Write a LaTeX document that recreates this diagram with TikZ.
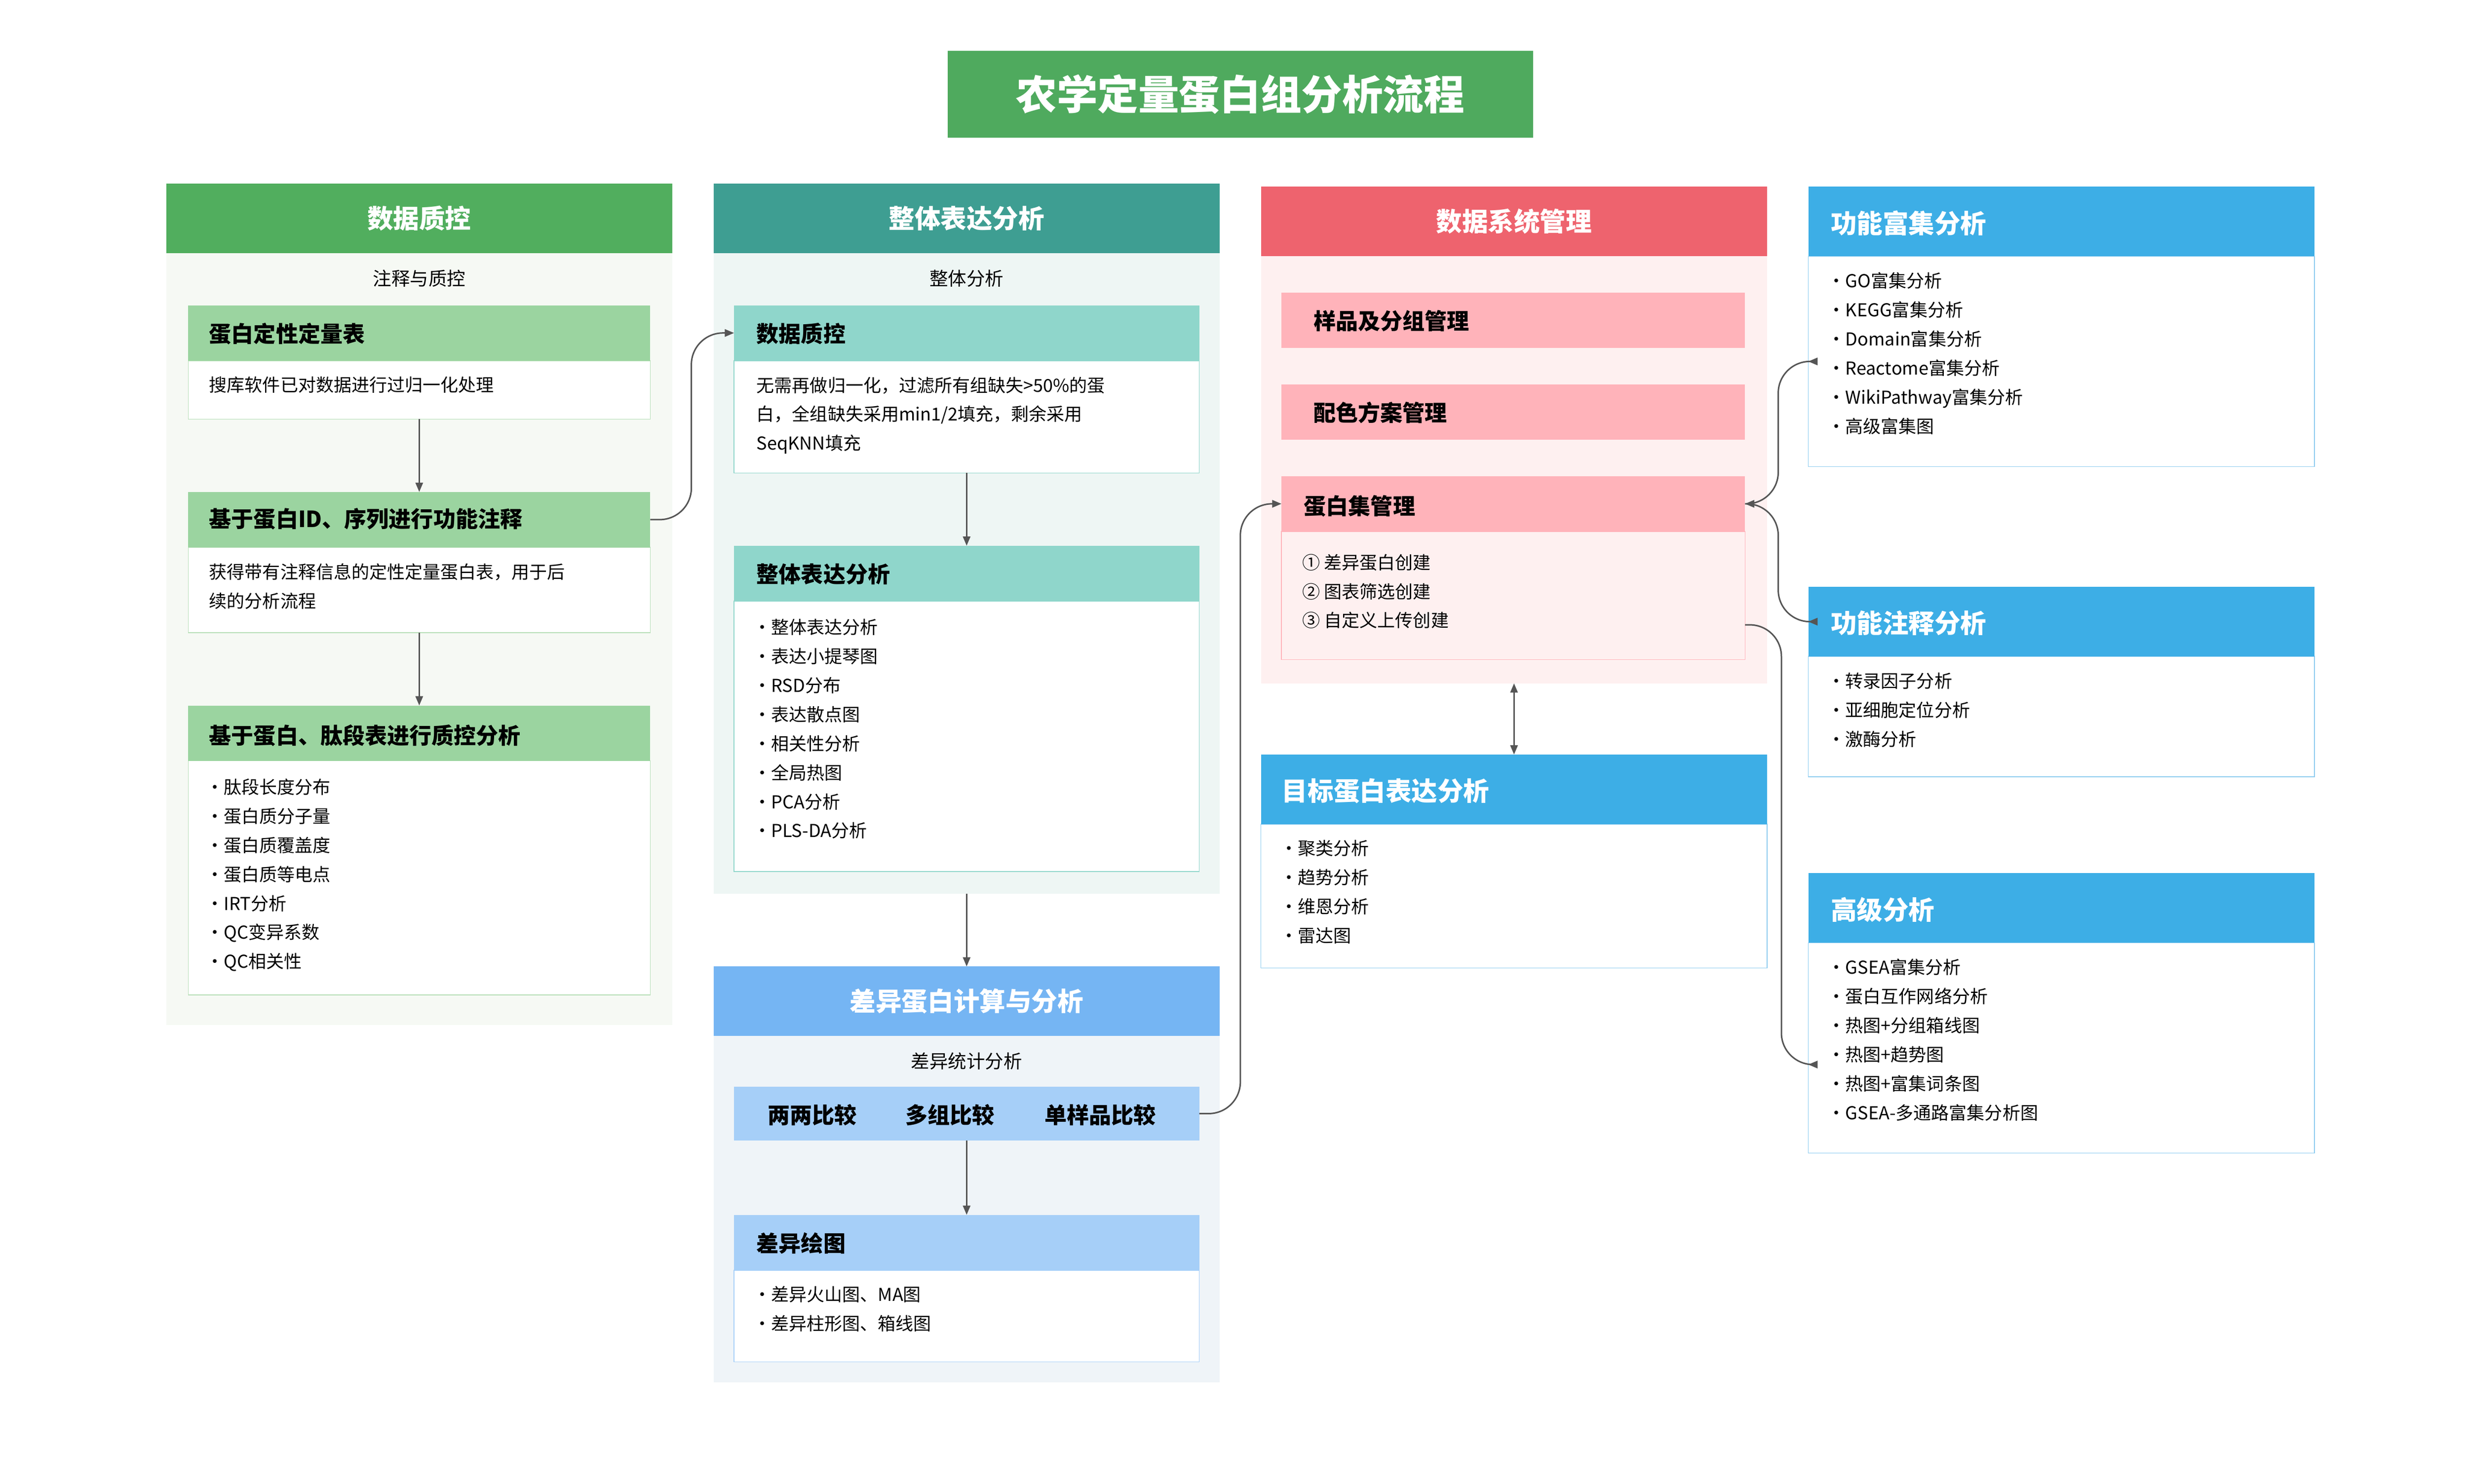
\documentclass[tikz,border=0pt]{standalone}
\usepackage{fontspec}
\setmainfont{Noto Sans CJK SC}
\usetikzlibrary{arrows.meta,positioning}
\definecolor{titlegreen}{HTML}{4FAA5E}
\definecolor{gHead}{HTML}{51AE5E}\definecolor{gBg}{HTML}{F6F9F4}\definecolor{gSub}{HTML}{9BD4A0}\definecolor{gLine}{HTML}{B5DEB5}
\definecolor{tHead}{HTML}{3E9E92}\definecolor{tBg}{HTML}{EEF6F4}\definecolor{tSub}{HTML}{8FD6CB}
\definecolor{bHead}{HTML}{75B5F3}\definecolor{bBg}{HTML}{EFF4F8}\definecolor{bSub}{HTML}{A6CFF8}
\definecolor{rHead}{HTML}{EE636E}\definecolor{rBg}{HTML}{FEF0F0}\definecolor{rSub}{HTML}{FFB3BA}
\definecolor{sky}{HTML}{3DAEE6}\definecolor{skyLine}{HTML}{8CCBEF}
\definecolor{arrgray}{HTML}{555555}
\tikzset{
  blk/.style 2 args={rectangle,anchor=north west,inner sep=0pt,outer sep=0pt,minimum width=#1*0.03cm,minimum height=#2*0.03cm},
  headtxt/.style={text=white,font=\fontsize{14}{16}\selectfont\bfseries},
  subtxt/.style={anchor=west,font=\fontsize{12}{14}\selectfont\bfseries,inner sep=0pt},
  bodytxt/.style={anchor=north west,align=left,inner sep=0pt,font=\fontsize{9.6}{15.7}\selectfont},
  arr/.style={draw=arrgray,line width=0.8pt,-{Triangle[length=5pt,width=4pt]}},
  arrb/.style={draw=arrgray,line width=0.8pt,{Triangle[length=5pt,width=4pt]}-{Triangle[length=5pt,width=4pt]}}
}
\begin{document}
\begin{tikzpicture}[x=0.03cm,y=-0.03cm]
\useasboundingbox (0,0) rectangle (1560,938);
% title
\node[blk={370}{55},fill=titlegreen] (title) at (599,32) {};
\node[text=white,font=\fontsize{22}{26}\selectfont\bfseries] at (title.center) {农学定量蛋白组分析流程};

% panel 1: data QC
\node[blk={320}{488},fill=gBg] (p1) at (105,160) {};
\node[blk={320}{44},fill=gHead,headtxt] (p1h) at (105,116) {数据质控};
\node[font=\fontsize{10}{12}\selectfont] (p1s) at (265,176) {注释与质控};
\node[blk={292}{37},fill=white,draw=gLine] (p1b1b) at (119,228) {};
\node[blk={292}{35},fill=gSub] (p1b1h) at (119,193) {};
\node[subtxt] at (132,211) {蛋白定性定量表};
\node[bodytxt] at (132,238) {搜库软件已对数据进行过归一化处理};
\node[blk={292}{54},fill=white,draw=gLine] (p1b2b) at (119,346) {};
\node[blk={292}{35},fill=gSub] (p1b2h) at (119,311) {};
\node[subtxt] at (132,328) {基于蛋白ID、序列进行功能注释};
\node[bodytxt] at (132,356) {获得带有注释信息的定性定量蛋白表，用于后\\续的分析流程};
\node[blk={292}{148},fill=white,draw=gLine] (p1b3b) at (119,481) {};
\node[blk={292}{35},fill=gSub] (p1b3h) at (119,446) {};
\node[subtxt] at (132,465) {基于蛋白、肽段表进行质控分析};
\node[bodytxt] at (130,492) {·肽段长度分布\\·蛋白质分子量\\·蛋白质覆盖度\\·蛋白质等电点\\·IRT分析\\·QC变异系数\\·QC相关性};
\draw[arr] (p1b1b.south) -- (p1b2h.north);
\draw[arr] (p1b2b.south) -- (p1b3h.north);

% panel 2: overall expression
\node[blk={320}{405},fill=tBg] (p2) at (451,160) {};
\node[blk={320}{44},fill=tHead,headtxt] (p2h) at (451,116) {整体表达分析};
\node[font=\fontsize{10}{12}\selectfont] (p2s) at (611,176) {整体分析};
\node[blk={294}{71},fill=white,draw=tSub] (p2b1b) at (464,228) {};
\node[blk={294}{35},fill=tSub] (p2b1h) at (464,193) {};
\node[subtxt] at (478,211) {数据质控};
\node[bodytxt] at (478,238) {无需再做归一化，过滤所有组缺失>50\%的蛋\\白，全组缺失采用min1/2填充，剩余采用\\SeqKNN填充};
\node[blk={294}{171},fill=white,draw=tSub] (p2b2b) at (464,380) {};
\node[blk={294}{35},fill=tSub] (p2b2h) at (464,345) {};
\node[subtxt] at (478,363) {整体表达分析};
\node[bodytxt] at (476,391) {·整体表达分析\\·表达小提琴图\\·RSD分布\\·表达散点图\\·相关性分析\\·全局热图\\·PCA分析\\·PLS-DA分析};
\draw[arr] (p2b1b.south) -- (p2b2h.north);

% panel 3: differential
\node[blk={320}{219},fill=bBg] (p3) at (451,655) {};
\node[blk={320}{44},fill=bHead,headtxt] (p3h) at (451,611) {差异蛋白计算与分析};
\node[font=\fontsize{10}{12}\selectfont] (p3s) at (611,671) {差异统计分析};
\node[blk={294}{34},fill=bSub] (p3row) at (464,687) {};
\node[subtxt] at (485,705) {两两比较};
\node[subtxt] at (572,705) {多组比较};
\node[subtxt] at (660,705) {单样品比较};
\node[blk={294}{58},fill=white,draw=bSub] (p3b2b) at (464,803) {};
\node[blk={294}{35},fill=bSub] (p3b2h) at (464,768) {};
\node[subtxt] at (478,786) {差异绘图};
\node[bodytxt] at (476,813) {·差异火山图、MA图\\·差异柱形图、箱线图};
\draw[arr] (p2.south) -- (p3h.north);
\draw[arr] (p3row.south) -- (p3b2h.north);

% panel 4: data management
\node[blk={320}{270},fill=rBg] (p4) at (797,162) {};
\node[blk={320}{44},fill=rHead,headtxt] (p4h) at (797,118) {数据系统管理};
\node[blk={293}{35},fill=rSub] (p4b1) at (810,185) {};
\node[subtxt] at (830,203) {样品及分组管理};
\node[blk={293}{35},fill=rSub] (p4b2) at (810,243) {};
\node[subtxt] at (830,261) {配色方案管理};
\node[blk={293}{81},fill=rBg,draw=rSub] (p4b3b) at (810,336) {};
\node[blk={293}{35},fill=rSub] (p4b3h) at (810,301) {};
\node[subtxt] at (824,320) {蛋白集管理};
\node[bodytxt] at (823,350) {① 差异蛋白创建\\② 图表筛选创建\\③ 自定义上传创建};
\coordinate (p4out) at (1103,395);

% panel 5: target expression
\node[blk={320}{91},fill=white,draw=skyLine] (p5b) at (797,521) {};
\node[blk={320}{44},fill=sky] (p5h) at (797,477) {};
\node[headtxt,anchor=west,inner sep=0pt] at (810,500) {目标蛋白表达分析};
\node[bodytxt] at (809,531) {·聚类分析\\·趋势分析\\·维恩分析\\·雷达图};
\draw[arrb] (p4.south) -- (p5h.north);

% right column
\node[blk={320}{133},fill=white,draw=skyLine] (r1b) at (1143,162) {};
\node[blk={320}{44},fill=sky] (r1h) at (1143,118) {};
\node[headtxt,anchor=west,inner sep=0pt] at (1157,141) {功能富集分析};
\node[bodytxt] at (1155,172) {·GO富集分析\\·KEGG富集分析\\·Domain富集分析\\·Reactome富集分析\\·WikiPathway富集分析\\·高级富集图};
\node[blk={320}{76},fill=white,draw=skyLine] (r2b) at (1143,415) {};
\node[blk={320}{44},fill=sky] (r2h) at (1143,371) {};
\node[headtxt,anchor=west,inner sep=0pt] at (1157,394) {功能注释分析};
\node[bodytxt] at (1155,425) {·转录因子分析\\·亚细胞定位分析\\·激酶分析};
\node[blk={320}{133},fill=white,draw=skyLine] (r3b) at (1143,596) {};
\node[blk={320}{44},fill=sky] (r3h) at (1143,552) {};
\node[headtxt,anchor=west,inner sep=0pt] at (1157,575) {高级分析};
\node[bodytxt] at (1155,606) {·GSEA富集分析\\·蛋白互作网络分析\\·热图+分组箱线图\\·热图+趋势图\\·热图+富集词条图\\·GSEA-多通路富集分析图};
\coordinate (r3in) at (1143,673);

% connectors
\draw[arr,rounded corners=0.6cm] (p1b2h.east) -- ++(26,0) |- (p2b1h.west);
\draw[arr,rounded corners=0.6cm] (p3row.east) -- ++(26,0) |- (p4b3h.west);
\draw[arrb,rounded corners=0.6cm] (p4b3h.east) -- ++(21,0) |- (r1b.west);
\draw[arr,rounded corners=0.6cm] (p4b3h.east) -- ++(21,0) |- (r2h.west);
\draw[arr,rounded corners=0.6cm] (p4out) -- ++(23,0) |- (r3in);
\end{tikzpicture}
\end{document}
